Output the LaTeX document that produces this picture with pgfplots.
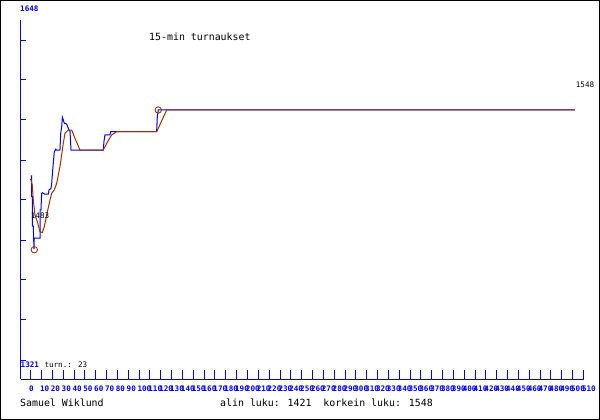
\documentclass[border=0pt]{standalone}
\usepackage{pgfplots}
\pgfplotsset{compat=1.18}
\usepackage{fontspec}
\setmainfont{DejaVu Sans Mono}
\definecolor{refblue}{RGB}{0,0,255}
\definecolor{refbrown}{RGB}{153,51,0}
\newcommand{\bigf}{\fontsize{9.9bp}{11bp}\selectfont}
\newcommand{\smallf}{\fontsize{7.6bp}{8bp}\selectfont}
\begin{document}
\begin{tikzpicture}
\draw[black, line width=1bp] (0.5bp,0.5bp) rectangle (599.5bp,419.5bp);
\begin{axis}[
  at={(20.5bp,40.5bp)}, anchor=south west,
  scale only axis, width=563bp, height=359.5bp,
  xmin=-9.4, xmax=510, ymin=1303.0, ymax=1629.8,
  axis x line=bottom, axis y line=left,
  axis line style={refblue, line width=1bp, -},
  tick align=inside,
  xtick={0,10,...,510},
  ytick={1611.6,1575.3,1538.9,1502.5,1466.2,1429.8,1393.5,1357.1,1320.7},
  yticklabels={},
  xtick style={refblue, line width=1bp, /pgfplots/major tick length=9bp},
  ytick style={refblue, line width=1bp, /pgfplots/major tick length=5.5bp},
  minor tick num=0,
  /pgf/number format/assume math mode=true,
  xticklabel style={font=\smallf\bfseries, text=refblue, anchor=north west, inner sep=0pt, xshift=-1.7bp, yshift=-6.5bp},
  clip=false,
]
\addplot[refblue, line width=1bp] coordinates {
(0.28,1488) (0.92,1488) (0.92,1469.2) (1.48,1469.2) (1.48,1442.5) (2.4,1442.5)
(3.04,1421.5) (3.3,1431.4) (8.6,1431.4) (8.6,1457.1) (9.5,1457.1) (10.1,1472.3)
(10.7,1472.8) (13.2,1471.4) (16.2,1471.4) (16.9,1475.3) (18.7,1476.8) (19.4,1481.4)
(20.3,1493.5) (21.8,1510.1) (23.1,1512.3) (23.6,1511.6) (27.0,1511.6) (27.7,1526.8)
(28.6,1532.8) (29.2,1541.4) (30.1,1538.9) (31.0,1535.9) (33.2,1535.3) (34.1,1532.8)
(35.1,1530.5) (36.3,1528.3) (37.2,1511.6) (67.0,1511.6) (67.6,1519.2) (68.5,1525.3)
(73.1,1525.3) (73.8,1528.3) (116.2,1528.3) (116.8,1541.9) (117.7,1548) (502.1,1548)
};
\addplot[refbrown, line width=1bp] coordinates {
(-0.37,1485.3) (0.28,1484.4) (1.48,1479.8) (2.40,1466.2) (3.97,1452.5) (6.46,1445.3)
(8.58,1437.4) (10.70,1436.5) (12.55,1441.9) (14.76,1452.5) (17.80,1466.2) (19.37,1472.3)
(21.77,1475.3) (23.99,1481.4) (27.03,1496.5) (30.07,1517.7) (31.64,1526.8) (34.69,1529.8)
(37.82,1529.8) (40.87,1522.3) (45.48,1511.6) (66.97,1511.6) (70.11,1517.7) (74.72,1525.3)
(79.34,1528.3) (116.24,1528.3) (125.46,1548) (502.1,1548)
};
\addplot[only marks, mark=o, mark size=3.2bp, refbrown, mark options={line width=0.9bp}] coordinates {
(3.32,1421) (117.7,1548)
};
\end{axis}
% texts
\node[anchor=north west, inner sep=0pt, text=refblue, font=\smallf\bfseries] at (20bp,414bp) {1648};
\node[anchor=north west, inner sep=0pt, text=refblue, font=\smallf\bfseries] at (20.5bp,58bp) {1321};
\node[anchor=north west, inner sep=0pt, font=\smallf] at (44.3bp,58bp) {turn.: 23};
\node[anchor=north west, inner sep=0pt, font=\smallf] at (30.7bp,207.3bp) {1483};
\node[anchor=north west, inner sep=0pt, font=\smallf] at (575.7bp,338.3bp) {1548};
\node[anchor=base west, inner sep=0pt, font=\bigf] at (149bp,379.3bp) {15-min turnaukset};
\node[anchor=base west, inner sep=0pt, font=\bigf] at (20bp,14bp) {Samuel Wiklund};
\node[anchor=base west, inner sep=0pt, font=\bigf] at (220bp,14bp) {alin luku: 1421~~korkein luku: 1548};
\pgfresetboundingbox
\useasboundingbox (0bp,0bp) rectangle (600bp,420bp);
\end{tikzpicture}
\end{document}
